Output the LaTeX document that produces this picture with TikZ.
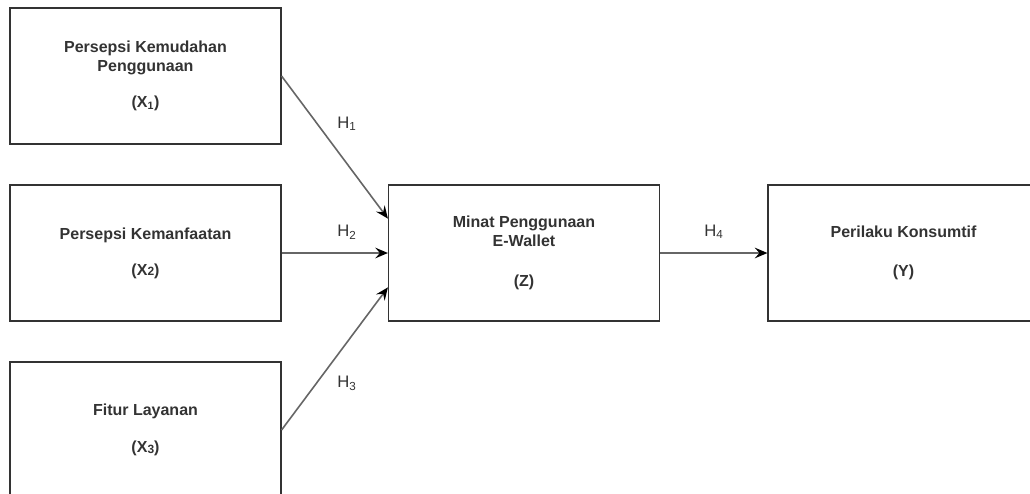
\documentclass[tikz,border=0pt]{standalone}
\usepackage{fontspec}
\setmainfont{Liberation Sans}
\usetikzlibrary{arrows.meta, calc}

\definecolor{boxline}{HTML}{333333}
\definecolor{arrline}{HTML}{666666}
\definecolor{txt}{HTML}{333333}

\tikzset{
  var/.style={draw=boxline, line width=1.1pt, minimum width=203pt, minimum height=102pt,
    inner sep=0pt, align=center, text=txt, font=\fontsize{12pt}{14pt}\selectfont\bfseries},
  hyp/.style={text=txt, font=\fontsize{12.5pt}{14pt}\selectfont},
  arr/.style={draw=arrline, line width=1.2pt, -{Stealth[length=9.5pt, width=8pt, inset=3.5pt, color=black]}}
}

\begin{document}
\begin{tikzpicture}[x=0.75pt, y=-0.75pt]
        \useasboundingbox (0,0) rectangle (1030,493);

        % variables
        \node[var] (x1) at (145.5, 76) {Persepsi Kemudahan\\Penggunaan\\[13pt](X\textsubscript{1})};
        \node[var] (x2) at (145.5, 253) {Persepsi Kemanfaatan\\[13pt](X{\raisebox{-0.5pt}{\fontsize{9pt}{9pt}\selectfont 2}})};
        \node[var] (x3) at (145.5, 430) {Fitur Layanan\\[14pt](X{\raisebox{-0.5pt}{\fontsize{9pt}{9pt}\selectfont 3}})};
        \node[var] (z) at (524, 253) {Minat Penggunaan\\E-Wallet\\[16pt](Z)};
        \node[var] (y) at (903.5, 253) {Perilaku Konsumtif\\[15pt](Y)};

        \coordinate (z1) at ($(z.north west)!0.25!(z.south west)$);
        \coordinate (z3) at ($(z.north west)!0.75!(z.south west)$);

        % paths
        \draw[arr] (x1.east) -- (z1);
        \draw[arr] (x2.east) -- (z.west);
        \draw[arr] (x3.east) -- (z3);
        \draw[arr] (z.east) -- (y.west);

        \node[hyp] (h1) at (347, 124) {H\textsubscript{1}};
        \node[hyp] (h2) at (347, 232) {H\textsubscript{2}};
        \node[hyp] (h3) at (347, 383) {H\textsubscript{3}};
        \node[hyp] (h4) at (714, 232) {H\textsubscript{4}};
    \end{tikzpicture}
\end{document}
